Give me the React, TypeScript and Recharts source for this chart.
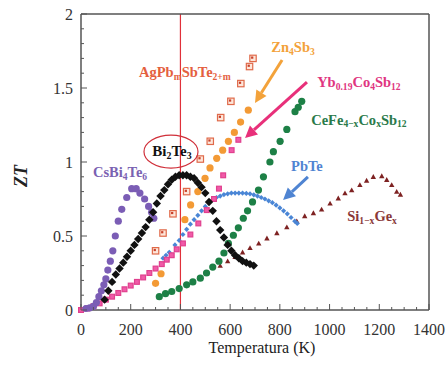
import React from 'react';
import { ScatterChart, Scatter, XAxis, YAxis, ReferenceLine, ReferenceDot } from 'recharts';

// ---- data (temperature K, ZT) ----
const csbi4te6 = [[20,0.01],[35,0.015],[50,0.025],[62,0.05],[72,0.09],[82,0.13],[92,0.17],[100,0.21],[108,0.27],[118,0.33],[128,0.4],[138,0.5],[150,0.6],[164,0.68],[184,0.76],[204,0.82],[222,0.82],[237,0.79],[256,0.75],[272,0.7],[284,0.66],[293,0.62]];
const bi2te3 = [[95,0.07],[110,0.13],[125,0.19],[140,0.24],[155,0.28],[170,0.32],[185,0.36],[200,0.4],[215,0.44],[230,0.48],[245,0.52],[260,0.56],[275,0.61],[290,0.66],[305,0.72],[320,0.77],[335,0.81],[350,0.85],[365,0.88],[380,0.9],[395,0.91],[410,0.91],[425,0.91],[440,0.9],[455,0.89],[470,0.86],[485,0.83],[500,0.79],[515,0.73],[530,0.67],[545,0.6],[560,0.54],[575,0.49],[590,0.44],[605,0.4],[620,0.37],[635,0.35],[650,0.33],[665,0.32],[680,0.31],[695,0.3]];
const agpbsbte = [[300,0.4],[330,0.52],[370,0.65],[425,0.8],[480,1.02],[520,1.14],[562,1.3],[603,1.41],[643,1.53],[678,1.645],[692,1.7]];
const zn4sb3 = [[300,0.18],[322,0.245],[418,0.61],[441,0.71],[470,0.8],[499,0.89],[519,0.96],[546,1.025],[570,1.08],[593,1.14],[617,1.2],[642,1.27],[673,1.35]];
const ybcosb = [[0,0],[25,0.01],[50,0.025],[75,0.045],[100,0.07],[125,0.09],[150,0.115],[175,0.14],[200,0.165],[225,0.19],[250,0.22],[275,0.25],[300,0.28],[325,0.31],[345,0.34],[365,0.37],[385,0.41],[410,0.45],[440,0.51],[472,0.585],[506,0.675],[535,0.75],[555,0.82],[572,0.91],[606,1.08],[633,1.15]];
const cefecosb = [[315,0.09],[340,0.11],[365,0.125],[395,0.145],[425,0.17],[450,0.19],[480,0.215],[505,0.25],[530,0.29],[555,0.33],[575,0.385],[593,0.45],[613,0.505],[633,0.555],[653,0.62],[670,0.67],[690,0.73],[714,0.81],[734,0.9],[760,1.0],[774,1.07],[801,1.14],[828,1.22],[861,1.34],[874,1.37],[888,1.41]];
const pbte = [[330,0.35],[342,0.37],[355,0.39],[378,0.44],[395,0.47],[410,0.51],[425,0.545],[440,0.58],[455,0.61],[470,0.64],[485,0.67],[500,0.7],[515,0.725],[530,0.745],[545,0.76],[560,0.77],[575,0.78],[590,0.785],[605,0.79],[620,0.79],[635,0.79],[650,0.79],[665,0.788],[680,0.785],[695,0.778],[710,0.77],[725,0.76],[740,0.75],[755,0.738],[770,0.725],[785,0.708],[800,0.69],[815,0.67],[830,0.65],[845,0.625],[860,0.6],[870,0.585]];
const sige = [[560,0.3],[590,0.33],[620,0.36],[650,0.39],[680,0.42],[715,0.45],[748,0.485],[788,0.52],[828,0.56],[868,0.6],[900,0.635],[935,0.655],[968,0.68],[1002,0.72],[1035,0.755],[1062,0.79],[1089,0.81],[1122,0.845],[1149,0.875],[1176,0.9],[1210,0.905],[1230,0.88],[1250,0.845],[1270,0.8],[1285,0.78]];

const xMajorTicks = [0, 200, 400, 600, 800, 1000, 1200, 1400];
const xAllTicks = [0,50,100,150,200,250,300,350,400,450,500,550,600,650,700,750,800,850,900,950,1000,1050,1100,1150,1200,1250,1300,1350,1400];
const yMajorTicks = [0, 0.5, 1, 1.5, 2];
const yAllTicks = [0,0.1,0.2,0.3,0.4,0.5,0.6,0.7,0.8,0.9,1,1.1,1.2,1.3,1.4,1.5,1.6,1.7,1.8,1.9,2];
const markerTemp = 400;

type Part = [string, boolean];
const annotations: { x: number; y: number; color: string; size: number; parts: Part[] }[] = [
  { x: 853, y: 1.777, color: '#f3a23a', size: 14.5, parts: [['Zn', false], ['4', true], ['Sb', false], ['3', true]] },
  { x: 418, y: 1.608, color: '#e4603e', size: 14.5, parts: [['AgPb', false], ['m', true], ['SbTe', false], ['2+m', true]] },
  { x: 1118, y: 1.54, color: '#e0357f', size: 14.5, parts: [['Yb', false], ['0.19', true], ['Co', false], ['4', true], ['Sb', false], ['12', true]] },
  { x: 1118, y: 1.284, color: '#2a7a4a', size: 14.5, parts: [['CeFe', false], ['4\u2212x', true], ['Co', false], ['x', true], ['Sb', false], ['12', true]] },
  { x: 909, y: 0.973, color: '#4f84d2', size: 14.5, parts: [['PbTe', false]] },
  { x: 1171, y: 0.635, color: '#8a3838', size: 14.5, parts: [['Si', false], ['1\u2212x', true], ['Ge', false], ['x', true]] },
  { x: 157, y: 0.932, color: '#7a62b2', size: 14.5, parts: [['CsBi', false], ['4', true], ['Te', false], ['6', true]] },
  { x: 366, y: 1.074, color: '#111111', size: 15, parts: [['Bi', false], ['2', true], ['Te', false], ['3', true]] },
];
const arrows = [
  { x1: 809, y1: 1.689, x2: 700, y2: 1.399, color: '#f3a23a' },
  { x1: 909, y1: 1.54, x2: 660, y2: 1.162, color: '#e8307a' },
  { x1: 913, y1: 0.899, x2: 813, y2: 0.743, color: '#4f84d2' },
];
const circledLabel = { x: 362, y: 1.07 };

const toPts = (a: number[][]) => a.map(([x, y]) => ({ x, y }));

const AX = '#555';
const FONT = '"Liberation Serif", "Times New Roman", "DejaVu Serif", serif';
const XM = 20;
const YM = 8;

const isMajorX = (v: number) => xMajorTicks.includes(v);
const isMajorY = (v: number) => yMajorTicks.some((m) => Math.abs(m - v) < 1e-6);

const BottomTick = (p: any) => {
  const v = p.payload.value;
  const ay = p.y - XM;
  const major = isMajorX(v);
  return (
    <g>
      <line x1={p.x} x2={p.x} y1={ay} y2={ay - (major ? 6 : 3)} stroke={AX} strokeWidth={1} />
      {major && (
        <text x={p.x} y={ay + 25} textAnchor="middle" fill="#333" style={{ fontFamily: FONT, fontSize: 16 }}>{v}</text>
      )}
    </g>
  );
};
const TopTick = (p: any) => {
  const v = p.payload.value;
  const ay = p.y + XM;
  const major = isMajorX(v);
  return <line x1={p.x} x2={p.x} y1={ay} y2={ay + (major ? 6 : 3)} stroke={AX} strokeWidth={1} />;
};
const LeftTick = (p: any) => {
  const v = p.payload.value;
  const ax = p.x + YM;
  const major = isMajorY(v);
  return (
    <g>
      <line x1={ax} x2={ax + (major ? 6 : 3)} y1={p.y} y2={p.y} stroke={AX} strokeWidth={1} />
      {major && (
        <text x={ax - 8} y={p.y + 6} textAnchor="end" fill="#333" style={{ fontFamily: FONT, fontSize: 16 }}>{String(v)}</text>
      )}
    </g>
  );
};
const RightTick = (p: any) => {
  const v = p.payload.value;
  const ax = p.x - YM;
  const major = isMajorY(v);
  return <line x1={ax} x2={ax - (major ? 6 : 3)} y1={p.y} y2={p.y} stroke={AX} strokeWidth={1} />;
};

const circle = (fill: string, r: number) => (p: any) => <circle cx={p.cx} cy={p.cy} r={r} fill={fill} />;
const diamond = (fill: string, s: number) => (p: any) => (
  <polygon points={`${p.cx},${p.cy - s} ${p.cx + s},${p.cy} ${p.cx},${p.cy + s} ${p.cx - s},${p.cy}`} fill={fill} />
);
const square = (fill: string, stroke: string, s: number, inner?: string) => (p: any) => (
  <g>
    <rect x={p.cx - s} y={p.cy - s} width={2 * s} height={2 * s} fill={fill} stroke={stroke} strokeWidth={1.2} />
    {inner && <rect x={p.cx - s * 0.6} y={p.cy - s * 0.6} width={s * 0.7} height={s * 0.7} fill={inner} />}
  </g>
);
const triangle = (fill: string, s: number) => (p: any) => (
  <polygon points={`${p.cx},${p.cy - s} ${p.cx + s},${p.cy + s * 0.8} ${p.cx - s},${p.cy + s * 0.8}`} fill={fill} />
);

const RichText = ({ x, y, parts, color, size }: any) => {
  let shifted = false;
  return (
    <text x={x} y={y} textAnchor="middle" dominantBaseline="central" fill={color} style={{ fontFamily: FONT, fontSize: size, fontWeight: 'bold' }}>
      {parts.map(([t, sub]: Part, i: number) => {
        let dy = 0;
        if (sub && !shifted) { dy = 3.5; shifted = true; }
        else if (!sub && shifted) { dy = -3.5; shifted = false; }
        return (
          <tspan key={i} dy={dy} style={{ fontSize: sub ? size * 0.66 : size }}>{t}</tspan>
        );
      })}
    </text>
  );
};

const ArrowShape = (color: string) => (p: any) => {
  const { x1, y1, x2, y2 } = p;
  const ang = Math.atan2(y2 - y1, x2 - x1);
  const L = 12, W = 6;
  const bx = x2 - L * Math.cos(ang), by = y2 - L * Math.sin(ang);
  const nx = -Math.sin(ang), ny = Math.cos(ang);
  return (
    <g>
      <line x1={x1} y1={y1} x2={bx} y2={by} stroke={color} strokeWidth={3} />
      <polygon points={`${x2},${y2} ${bx + nx * W},${by + ny * W} ${bx - nx * W},${by - ny * W}`} fill={color} />
    </g>
  );
};

export default function App() {
  return (
    <div style={{ position: 'absolute', left: 0, top: 0, width: 447, height: 368, background: '#fff', fontFamily: FONT }}>
      <ScatterChart width={447} height={368} margin={{ top: 10, right: 10, bottom: 18, left: 21 }} style={{ fontFamily: FONT }}>
        <XAxis
          xAxisId="b" type="number" dataKey="x" domain={[0, 1400]} ticks={xAllTicks} interval={0}
          orientation="bottom" height={40} tickSize={0} tickMargin={XM} tickLine={false}
          axisLine={{ stroke: AX, strokeWidth: 1.5 }} tick={<BottomTick />}
          label={{
            content: (lp: any) => {
              const vb = lp.viewBox || {};
              return (
                <text x={vb.x + vb.width / 2 + 7} y={vb.y + 43} textAnchor="middle" fill="#222" style={{ fontFamily: FONT, fontSize: 16 }}>
                  Temperatura (K)
                </text>
              );
            },
          }}
        />
        <XAxis
          xAxisId="t" type="number" dataKey="x" domain={[0, 1400]} ticks={xAllTicks} interval={0}
          orientation="top" height={4} tickSize={0} tickMargin={XM} tickLine={false}
          axisLine={{ stroke: AX, strokeWidth: 1.5 }} tick={<TopTick />}
        />
        <YAxis
          yAxisId="l" type="number" dataKey="y" domain={[0, 2]} ticks={yAllTicks} interval={0}
          orientation="left" width={60} tickSize={0} tickMargin={YM} tickLine={false}
          axisLine={{ stroke: AX, strokeWidth: 1.5 }} tick={<LeftTick />}
          label={{
            content: (lp: any) => {
              const vb = lp.viewBox || {};
              const cx = vb.x;
              const cy = vb.y + vb.height / 2 + 14;
              return (
                <text x={cx} y={cy} transform={`rotate(-90 ${cx} ${cy})`} textAnchor="middle" dominantBaseline="central" fill="#222" style={{ fontFamily: FONT, fontSize: 18, fontStyle: 'italic', fontWeight: 'bold' }}>
                  ZT
                </text>
              );
            },
          }}
        />
        <YAxis
          yAxisId="r" type="number" dataKey="y" domain={[0, 2]} ticks={yAllTicks} interval={0}
          orientation="right" width={8} tickSize={0} tickMargin={YM} tickLine={false}
          axisLine={{ stroke: AX, strokeWidth: 1.5 }} tick={<RightTick />}
        />

        <ReferenceLine xAxisId="b" yAxisId="l" x={markerTemp} stroke="#e0303a" strokeWidth={1.2} />

        <Scatter xAxisId="b" yAxisId="l" data={toPts(sige)} shape={triangle('#7e2222', 2.7)} isAnimationActive={false} />
        <Scatter xAxisId="b" yAxisId="l" data={toPts(cefecosb)} shape={circle('#1d8046', 3.6)} isAnimationActive={false} />
        <Scatter xAxisId="b" yAxisId="l" data={toPts(pbte)} shape={diamond('#4a86d6', 2.6)} isAnimationActive={false} />
        <Scatter xAxisId="b" yAxisId="l" data={toPts(zn4sb3)} shape={circle('#f39a35', 3.6)} isAnimationActive={false} />
        <Scatter xAxisId="b" yAxisId="l" data={toPts(agpbsbte)} shape={square('#fde6da', '#e06a4a', 3.2, '#c8402a')} isAnimationActive={false} />
        <Scatter xAxisId="b" yAxisId="l" data={toPts(ybcosb)} shape={square('#f05aa8', '#e0408e', 2.4)} isAnimationActive={false} />
        <Scatter xAxisId="b" yAxisId="l" data={toPts(csbi4te6)} shape={circle('#7b5db5', 3.6)} isAnimationActive={false} />
        <Scatter xAxisId="b" yAxisId="l" data={toPts(bi2te3)} shape={diamond('#111111', 4.2)} isAnimationActive={false} />

        {arrows.map((a, i) => (
          <ReferenceLine key={'a' + i} xAxisId="b" yAxisId="l" segment={[{ x: a.x1, y: a.y1 }, { x: a.x2, y: a.y2 }]} shape={ArrowShape(a.color)} />
        ))}
        <ReferenceDot
          xAxisId="b" yAxisId="l" x={circledLabel.x} y={circledLabel.y} r={1}
          shape={(p: any) => <ellipse cx={p.cx} cy={p.cy} rx={27} ry={16.5} fill="none" stroke="#d0303a" strokeWidth={1.2} />}
        />
        {annotations.map((a, i) => (
          <ReferenceDot
            key={'t' + i} xAxisId="b" yAxisId="l" x={a.x} y={a.y} r={1}
            shape={(p: any) => <RichText x={p.cx} y={p.cy} parts={a.parts} color={a.color} size={a.size} />}
          />
        ))}
      </ScatterChart>
    </div>
  );
}
